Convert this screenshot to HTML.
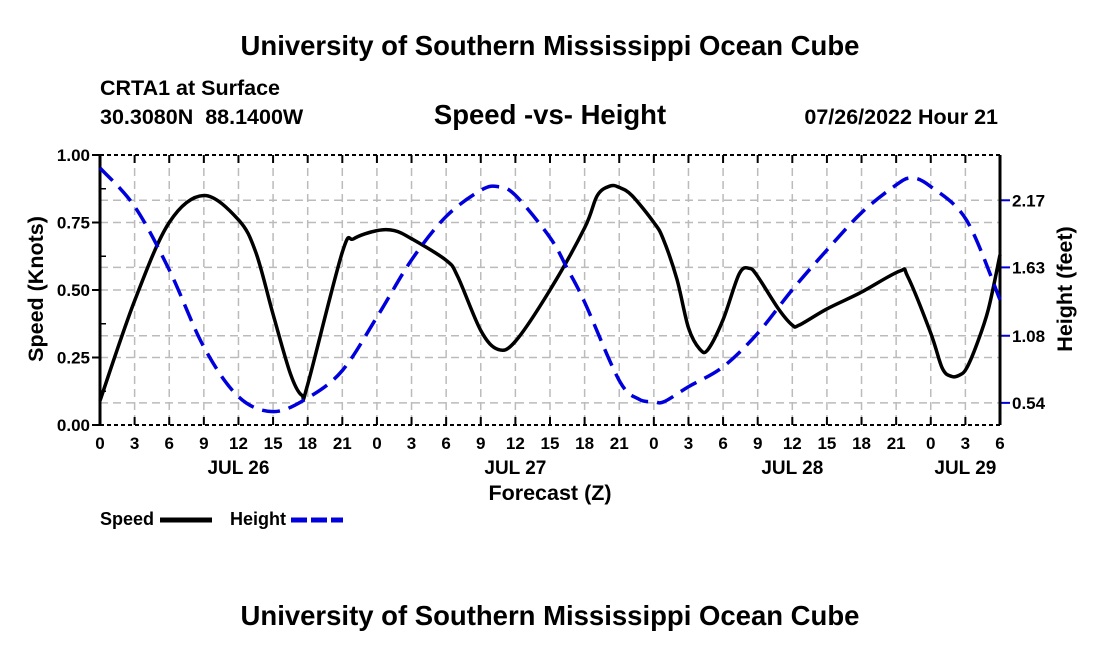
<!DOCTYPE html>
<html><head><meta charset="utf-8"><style>
body{margin:0;background:#fff;width:1100px;height:650px;overflow:hidden}
svg text{font-family:"Liberation Sans",Arial,sans-serif;font-weight:bold;fill:#000}
</style></head><body>
<svg id="chart" width="1100" height="650">
<text x="550" y="55" font-size="27.5" text-anchor="middle">University of Southern Mississippi Ocean Cube</text>
<text x="100" y="95" font-size="21.5">CRTA1 at Surface</text>
<text x="100" y="124" font-size="21.5">30.3080N&#160;&#160;88.1400W</text>
<text x="550" y="124" font-size="27.5" text-anchor="middle">Speed -vs- Height</text>
<text x="998" y="124" font-size="21.5" text-anchor="end">07/26/2022 Hour 21</text>
<g id="grid"></g>
<g id="axes"></g>
<g id="series"></g>
<text x="550" y="500" font-size="21.5" text-anchor="middle">Forecast (Z)</text>
<text transform="translate(43,289) rotate(-90)" font-size="21.5" text-anchor="middle">Speed (Knots)</text>
<text transform="translate(1072,289) rotate(-90)" font-size="21.5" text-anchor="middle">Height (feet)</text>
<g>
<text x="100" y="525" font-size="18">Speed</text>
<line x1="160" y1="520" x2="212" y2="520" stroke="#000" stroke-width="5"/>
<text x="230" y="525" font-size="18">Height</text>
<line x1="291" y1="520" x2="343" y2="520" stroke="#0000dd" stroke-width="5" stroke-dasharray="16,4"/>
</g>
<text x="550" y="625" font-size="27.5" text-anchor="middle">University of Southern Mississippi Ocean Cube</text>
</svg>
<script>
const speedHours=[0,3,6,9,12,13.5,15,16.5,17.5,18,21,22,24,25.5,27,30,31,33,34.5,36,39,42,43.1,44.2,45,46.1,48,48.8,50,51,52,52.7,54,55.4,56.3,57,58.8,60,60.6,63,65.9,69.3,70,72,73,73.8,74.5,75.1,76,77,78];
const speedValues=[0.09,0.46,0.75,0.85,0.76,0.64,0.41,0.19,0.11,0.15,0.64,0.69,0.72,0.72,0.69,0.61,0.55,0.35,0.28,0.31,0.5,0.73,0.85,0.885,0.88,0.85,0.75,0.69,0.54,0.36,0.28,0.28,0.39,0.56,0.58,0.55,0.43,0.37,0.37,0.43,0.49,0.57,0.55,0.34,0.21,0.18,0.185,0.21,0.3,0.43,0.63];
const heightHours=[0,3,6,9,12,15,18,21,24,27,30,33,34.5,36,39,40.5,42,45,46.7,48,48.9,51,54,57,60,63,66,68.8,70.3,72,75.1,78];
const heightValues=[2.43,2.12,1.61,0.99,0.59,0.47,0.58,0.8,1.23,1.69,2.04,2.25,2.28,2.21,1.87,1.62,1.35,0.72,0.57,0.55,0.55,0.67,0.83,1.1,1.45,1.77,2.07,2.28,2.35,2.28,2.01,1.37];
const xTickLabels=["0","3","6","9","12","15","18","21","0","3","6","9","12","15","18","21","0","3","6","9","12","15","18","21","0","3","6"];
const dayLabels=["JUL 26","JUL 27","JUL 28","JUL 29"];
const dayLabelHours=[12,36,60,75];
const leftTicks=[0,0.25,0.5,0.75,1.0];
const rightTicks=[0.54,1.08,1.63,2.17];
const X0=100,X1=1000,Y0=425,Y1=155;
const xs=h=>X0+h*(X1-X0)/78;
const ys=v=>Y0-v*(Y0-Y1);
const yh=v=>470-v*124.3;
const NS="http://www.w3.org/2000/svg";
function mk(parent,tag,attrs){const e=document.createElementNS(NS,tag);for(const k in attrs)e.setAttribute(k,attrs[k]);document.getElementById(parent).appendChild(e);return e;}
function smooth(pts){let d="M"+pts[0][0]+","+pts[0][1];
 for(let i=0;i<pts.length-1;i++){const p0=pts[Math.max(0,i-1)],p1=pts[i],p2=pts[i+1],p3=pts[Math.min(pts.length-1,i+2)];const t=0.5/3;
 d+=" C"+(p1[0]+(p2[0]-p0[0])*t)+","+(p1[1]+(p2[1]-p0[1])*t)+" "+(p2[0]-(p3[0]-p1[0])*t)+","+(p2[1]-(p3[1]-p1[1])*t)+" "+p2[0]+","+p2[1];}
 return d;}
const gridStyle={stroke:"#bbb","stroke-width":1.5,"stroke-dasharray":"8,5"};
xTickLabels.forEach((t,i)=>{const x=xs(i*3);
 if(i>0&&i<26){const l=mk("grid","line",Object.assign({x1:x,y1:Y1,x2:x,y2:Y0},gridStyle));
 
 }
 const tk=mk("axes","line",{x1:x,y1:Y0,x2:x,y2:Y0-8,stroke:"#000","stroke-width":2});
 
 
 const tk2=mk("axes","line",{x1:x,y1:Y1,x2:x,y2:Y1+8,stroke:"#000","stroke-width":2});
 
 
 const tx=mk("axes","text",{x:x,y:449,"font-size":17,"text-anchor":"middle"});tx.textContent=t;
 
 });
dayLabels.forEach((d,i)=>{const tx=mk("axes","text",{x:xs(dayLabelHours[i]),y:474,"font-size":19,"text-anchor":"middle"});tx.textContent=d;
 
 });
leftTicks.forEach(v=>{const y=ys(v);
 if(v>0&&v<1){const l=mk("grid","line",Object.assign({x1:X0,y1:y,x2:X1,y2:y},gridStyle));
 
 }
 const tk=mk("axes","line",{x1:X0-8,y1:y,x2:X0,y2:y,stroke:"#000","stroke-width":2});
 
 
 const tx=mk("axes","text",{x:X0-10,y:y+6,"font-size":17,"text-anchor":"end"});tx.textContent=v.toFixed(2);
 
 });
for(let v=0.125;v<1;v+=0.25){const tk=mk("axes","line",{x1:X0,y1:ys(v),x2:X0+6,y2:ys(v),stroke:"#000","stroke-width":1.5});
 
 }
rightTicks.forEach(v=>{const y=yh(v);
 const l=mk("grid","line",Object.assign({x1:X0,y1:y,x2:X1,y2:y},gridStyle));
 
 
 const tk=mk("axes","line",{x1:X1,y1:y,x2:X1+10,y2:y,stroke:"#0000dd","stroke-width":2});
 
 
 const tx=mk("axes","text",{x:X1+12,y:y+6,"font-size":17});tx.textContent=v.toFixed(2);
 
 });
const frame=[[X0,Y1,X1,Y1,"4,3"],[X0,Y0,X1,Y0,"4,3"],[X0,Y1,X0,Y0,""],[X1,Y1,X1,Y0,""]];
frame.forEach(f=>{const l=mk("axes","line",{x1:f[0],y1:f[1],x2:f[2],y2:f[3],stroke:"#000","stroke-width":f[4]?2:3});
 if(f[4])l.setAttribute("stroke-dasharray",f[4]);
 
 });
const sp=mk("series","path",{d:smooth(speedHours.map((h,i)=>[xs(h),ys(speedValues[i])])),fill:"none",stroke:"#000","stroke-width":3.5,"stroke-linejoin":"round"});


const hp=mk("series","path",{d:smooth(heightHours.map((h,i)=>[xs(h),yh(heightValues[i])])),fill:"none",stroke:"#0000dd","stroke-width":3.5,"stroke-dasharray":"18,9"});


</script>
</body></html>
